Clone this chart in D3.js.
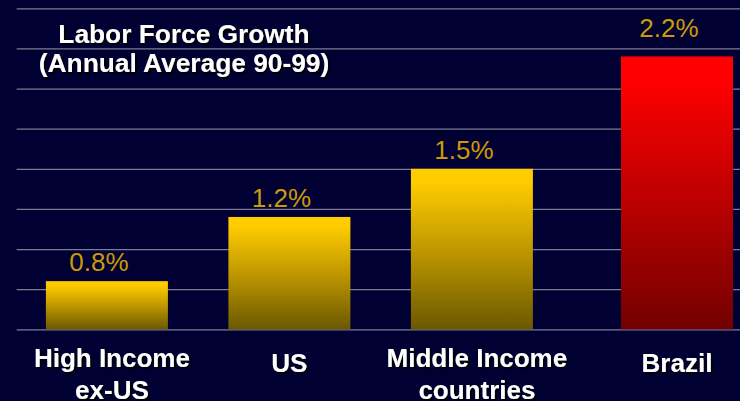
<!DOCTYPE html>
<html>
<head>
<meta charset="utf-8">
<script src="https://cdn.jsdelivr.net/npm/d3@7"></script>
<style>
  html, body { margin: 0; padding: 0; background: #000033; }
  svg { display: block; }
  text { font-family: "Liberation Sans", Arial, Helvetica, sans-serif; }
</style>
</head>
<body>
<svg id="chart" width="740" height="401"></svg>
<script>
// Labor force growth, annual average 1990-99 (%)
const categories = ["High Income ex-US", "US", "Middle Income countries", "Brazil"];
const categoryLines = [["High Income", "ex-US"], ["US"], ["Middle Income", "countries"], ["Brazil"]];
const values = [0.8, 1.2, 1.5, 2.2];
const valueLabels = ["0.8%", "1.2%", "1.5%", "2.2%"];
const highlighted = ["Brazil"];
const gridTicks = [0.5, 0.75, 1.0, 1.25, 1.5, 1.75, 2.0, 2.25, 2.5];
const titleLines = ["Labor Force Growth", "(Annual Average 90-99)"];

const W = 740, H = 401;
const svg = d3.select("#chart");

const plot = { left: 16.7, top: 8.3, bottom: 329.3 };
const step = 182.5;

const x = d3.scaleBand()
  .domain(categories)
  .range([plot.left, plot.left + step * (4 - 0.3315 + 0.32)])
  .paddingInner(0.3315)
  .paddingOuter(0.16);

const y = d3.scaleLinear()
  .domain([0.5, 2.5])
  .range([plot.bottom, plot.top]);

const defs = svg.append("defs");

// Bar gradients
function grad(id, top, mid, bottom) {
  const g = defs.append("linearGradient").attr("id", id)
    .attr("x1", 0).attr("y1", 0).attr("x2", 0).attr("y2", 1);
  g.append("stop").attr("offset", "0%").attr("stop-color", top);
  g.append("stop").attr("offset", "8%").attr("stop-color", top);
  g.append("stop").attr("offset", "55%").attr("stop-color", mid);
  g.append("stop").attr("offset", "100%").attr("stop-color", bottom);
}
grad("goldGrad", "#FFCC00", "#B89200", "#6B5800");
grad("redGrad", "#FF0000", "#B80000", "#720000");

// Drop shadow for the white labels
defs.append("filter").attr("id", "shadow")
  .attr("x", "-10%").attr("y", "-30%").attr("width", "120%").attr("height", "160%")
  .append("feDropShadow")
  .attr("dx", 1.8).attr("dy", 1.8).attr("stdDeviation", 0)
  .attr("flood-color", "#000000").attr("flood-opacity", 1);

// Background
svg.append("rect").attr("width", W).attr("height", H).attr("fill", "#000033");

// Horizontal gridlines
svg.append("g")
  .attr("transform", `translate(${plot.left},0)`)
  .call(d3.axisLeft(y).tickValues(gridTicks).tickSize(-(W - plot.left)).tickFormat(""))
  .call(g => g.select(".domain").remove())
  .call(g => g.selectAll(".tick line")
    .attr("stroke", "#7d7d92")
    .attr("stroke-width", 1.3));

// Highlighted bar: narrower and shifted right within its band
const hiShift = 27.6, hiWidth = 112;
const barX = d => highlighted.includes(d) ? x(d) + hiShift : x(d);
const barW = d => highlighted.includes(d) ? hiWidth : x.bandwidth();

const data = categories.map((c, i) => ({ c, v: values[i], label: valueLabels[i], lines: categoryLines[i] }));

// Bars
svg.append("g").selectAll("rect")
  .data(data)
  .join("rect")
  .attr("x", d => barX(d.c))
  .attr("y", d => y(d.v))
  .attr("width", d => barW(d.c))
  .attr("height", d => y(0.5) - y(d.v))
  .attr("fill", d => highlighted.includes(d.c) ? "url(#redGrad)" : "url(#goldGrad)");

// Value labels
svg.append("g").selectAll("text")
  .data(data)
  .join("text")
  .attr("x", d => barX(d.c) + barW(d.c) / 2 - 8)
  .attr("y", d => y(d.v) - (highlighted.includes(d.c) ? 19 : 10))
  .attr("text-anchor", "middle")
  .attr("font-size", 26)
  .attr("fill", "#CC9A06")
  .text(d => d.label);

// White bold text with drop shadow
function shadowText(g, xPos, yPos, str, size) {
  g.append("text").attr("x", xPos).attr("y", yPos)
    .attr("text-anchor", "middle").attr("font-size", size).attr("font-weight", "bold")
    .attr("fill", "#FFFFFF").attr("filter", "url(#shadow)").text(str);
}

// Category labels
const catG = svg.append("g");
data.forEach(d => {
  const cx = barX(d.c) + barW(d.c) / 2;
  if (d.lines.length === 1) {
    shadowText(catG, cx, 372, d.lines[0], 26);
  } else {
    d.lines.forEach((ln, j) => shadowText(catG, cx + 5, 367 + j * 32, ln, 26));
  }
});

// Title
const titleG = svg.append("g");
titleLines.forEach((t, i) => shadowText(titleG, 184, 43 + i * 28.7, t, 26.3));
</script>
</body>
</html>
